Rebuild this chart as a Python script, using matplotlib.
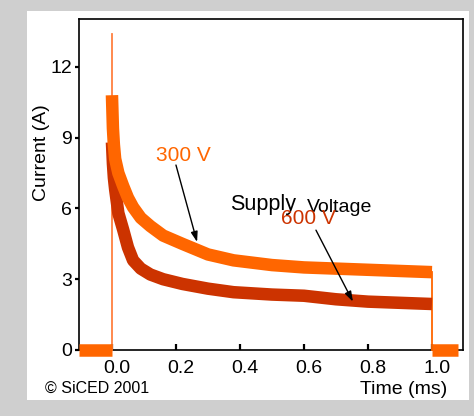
import matplotlib
matplotlib.use("Agg")
import matplotlib.pyplot as plt
from matplotlib.patches import Rectangle
import matplotlib.transforms as mtransforms

plt.rcParams['font.family'] = ['Liberation Sans', 'DejaVu Sans']

# ---- data ----
t_300 = [0.0, 0.003, 0.006, 0.01, 0.02, 0.035, 0.05, 0.066, 0.09, 0.12, 0.16, 0.22,
         0.3, 0.38, 0.5, 0.6, 0.7, 0.8, 0.9, 1.0]
i_300 = [10.8, 9.4, 8.7, 8.1, 7.5, 6.95, 6.45, 6.05, 5.6, 5.25, 4.85, 4.5,
         4.05, 3.8, 3.6, 3.5, 3.45, 3.4, 3.35, 3.3]
t_600 = [0.0, 0.003, 0.006, 0.01, 0.02, 0.035, 0.05, 0.066, 0.09, 0.12, 0.16, 0.22,
         0.3, 0.38, 0.5, 0.6, 0.7, 0.8, 0.9, 1.0]
i_600 = [8.8, 7.9, 7.3, 6.8, 5.8, 5.1, 4.35, 3.8, 3.45, 3.2, 3.0, 2.8,
         2.6, 2.45, 2.35, 2.3, 2.15, 2.05, 2.0, 1.95]
t_pre = [-0.103, 0.0]
i_pre = [0.0, 0.0]
t_post = [1.0, 1.08]
i_post = [0.0, 0.0]
t_spike = [0.0, 0.0]
i_spike = [0.0, 13.4]
t_drop = [1.0, 1.0]
i_drop = [3.3, 0.0]

x_ticks = [0.0, 0.2, 0.4, 0.6, 0.8, 1.0]
x_ticklabels = ["0.0", "0.2", "0.4", "0.6", "0.8", "1.0"]
y_ticks = [0, 3, 6, 9, 12]
y_ticklabels = ["0", "3", "6", "9", "12"]

C300 = "#FF6600"
C600 = "#CC3300"

W, H = 474, 416
fig = plt.figure(figsize=(W / 100, H / 100), dpi=100)
fig.patch.set_facecolor("#CFCFCF")
fig.patches.append(Rectangle((27 / W, 1 - 400 / H), (469 - 27) / W, (400 - 11) / H,
                             transform=fig.transFigure, facecolor="white",
                             edgecolor="none", zorder=-10))

ax = fig.add_axes([79 / W, 1 - 350 / H, (463 - 79) / W, (350 - 19) / H])
ax.set_zorder(1)
ax.set_xlim(-0.103, 1.097)
ax.set_ylim(0, 14.03)

LW = 9
# traces
ax.plot(t_spike, i_spike, color="#FF8040", lw=1.3, zorder=3, clip_on=False)
ax.plot(t_drop, i_drop, color=C300, lw=1.3, zorder=3, clip_on=False)
ax.plot(t_600, i_600, color=C600, lw=LW, solid_capstyle="butt", solid_joinstyle="round", zorder=4)
ax.plot(t_300, i_300, color=C300, lw=LW, solid_capstyle="butt", solid_joinstyle="round", zorder=5)
ax.plot(t_pre, i_pre, color=C300, lw=LW, solid_capstyle="butt", zorder=5, clip_on=False)
ax.plot(t_post, i_post, color=C300, lw=LW, solid_capstyle="butt", zorder=5, clip_on=False)

# spines / ticks
for s in ax.spines.values():
    s.set_linewidth(1.2)
    s.set_color("black")
ax.set_xticks(x_ticks)
ax.set_xticklabels(x_ticklabels)
ax.set_yticks(y_ticks)
ax.set_yticklabels(y_ticklabels)
ax.tick_params(axis="x", direction="in", length=4, width=1.6, pad=7, labelsize=14)
ax.tick_params(axis="y", direction="out", length=3, width=1.6, pad=2, labelsize=14)
offset = mtransforms.ScaledTranslation(5 / 100, 0, fig.dpi_scale_trans)
for lab in ax.get_xticklabels():
    lab.set_transform(lab.get_transform() + offset)

ax.set_ylabel("Current (A)", fontsize=14, va="center", ha="center")
ax.yaxis.set_label_coords((41.5 - 79) / 384, (350 - 152.5) / 331)

# annotations
ax.annotate("", xy=(0.266, 4.58), xytext=(0.2, 7.84),
            arrowprops=dict(arrowstyle="-|>,head_length=0.6,head_width=0.2",
                            color="black", lw=1.0, shrinkA=0, shrinkB=0), zorder=6)
ax.annotate("", xy=(0.753, 2.05), xytext=(0.6375, 5.08),
            arrowprops=dict(arrowstyle="-|>,head_length=0.6,head_width=0.2",
                            color="black", lw=1.0, shrinkA=0, shrinkB=0), zorder=6)
ax.text(0.222, 8.24, "300 V", color=C300, fontsize=15, ha="center", va="center")
ax.text(0.369, 5.93, "Supply", color="black", fontsize=15.5, ha="left", va="baseline", zorder=7)
ax.text(0.609, 5.85, "Voltage", color="black", fontsize=14, ha="left", va="baseline", zorder=7)
ax.text(0.614, 5.59, "600 V", color=C600, fontsize=15, ha="center", va="center", zorder=8)

fig.text(404 / W, 1 - 390 / H, "Time (ms)", fontsize=14, ha="center", va="center")
fig.text(45 / W, 1 - 388 / H, "© SiCED 2001", fontsize=11.5, ha="left", va="center")

fig.savefig("out.png", dpi=100, facecolor=fig.get_facecolor())
